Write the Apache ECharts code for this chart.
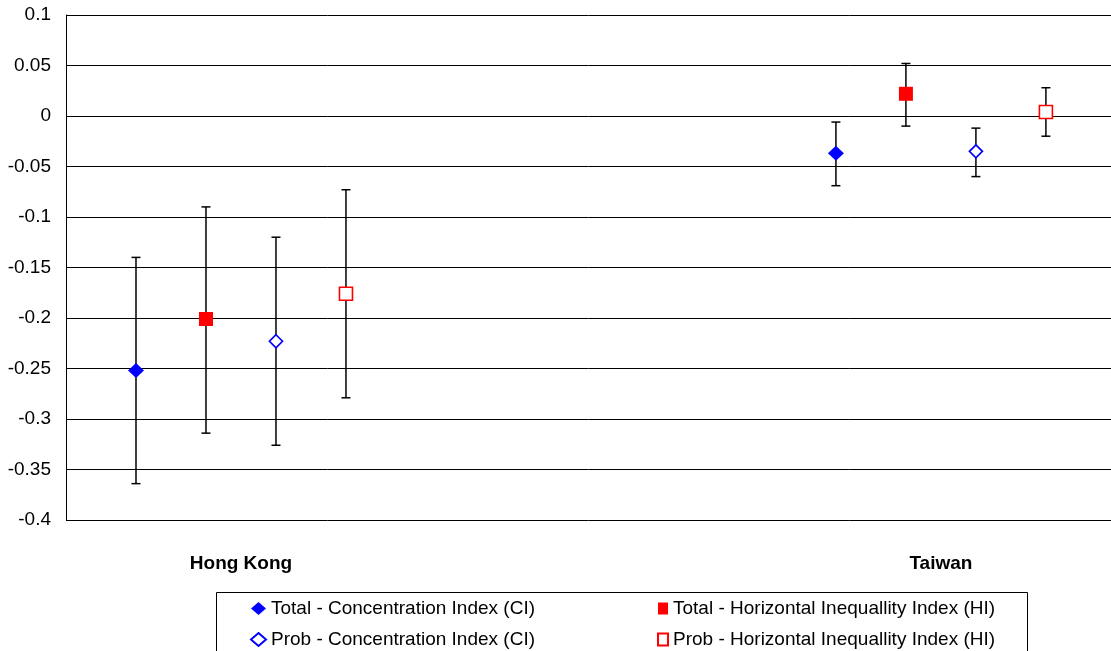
<!DOCTYPE html>
<html>
<head>
<meta charset="utf-8">
<script src="https://cdn.jsdelivr.net/npm/echarts@6/dist/echarts.min.js"></script>
<style>html,body{margin:0;padding:0;background:#fff;}#chart{width:1111px;height:651px;}</style>
</head>
<body>
<div id="chart"></div>
<script>
// ---- data ----
var categories = ['Hong Kong', 'Taiwan'];
var seriesNames = [
  'Total - Concentration Index (CI)',
  'Total - Horizontal Inequallity Index (HI)',
  'Prob - Concentration Index (CI)',
  'Prob - Horizontal Inequallity Index (HI)'
];
// values per category [Hong Kong, Taiwan]
var totalCI      = [-0.252, -0.037];
var totalCILow   = [-0.364, -0.069];
var totalCIHigh  = [-0.140, -0.006];
var totalHI      = [-0.201, 0.022];
var totalHILow   = [-0.314, -0.010];
var totalHIHigh  = [-0.090, 0.052];
var probCI       = [-0.223, -0.035];
var probCILow    = [-0.326, -0.060];
var probCIHigh   = [-0.120, -0.012];
var probHI       = [-0.176, 0.004];
var probHILow    = [-0.279, -0.020];
var probHIHigh   = [-0.073, 0.028];
var yTicks = [0.1, 0.05, 0, -0.05, -0.1, -0.15, -0.2, -0.25, -0.3, -0.35, -0.4];

// ---- layout helpers ----
var CAT_SPACING = 10;   // x-units between category groups
function xPos(catIdx, serIdx) { return catIdx * CAT_SPACING + serIdx + 1; }
function catCenter(catIdx) { return catIdx * CAT_SPACING + 2.5; }

var values = [totalCI, totalHI, probCI, probHI];
var lows = [totalCILow, totalHILow, probCILow, probHILow];
var highs = [totalCIHigh, totalHIHigh, probCIHigh, probHIHigh];

var styles = [
  {symbol: 'diamond', size: [16, 15], itemStyle: {color: '#0000FF', borderColor: '#0000FF', borderWidth: 0, opacity: 1}},
  {symbol: 'rect', size: [14, 14], itemStyle: {color: '#FF0000', borderColor: '#FF0000', borderWidth: 0, opacity: 1}},
  {symbol: 'diamond', size: [13, 13], itemStyle: {color: '#FFFFFF', borderColor: '#0000FF', borderWidth: 1.7, opacity: 1}},
  {symbol: 'rect', size: [13, 13], itemStyle: {color: '#FFFFFF', borderColor: '#FF0000', borderWidth: 1.6, opacity: 1}}
];

var series = [];
// error bars
var errData = [];
for (var s = 0; s < 4; s++) {
  for (var c = 0; c < categories.length; c++) {
    errData.push([xPos(c, s), lows[s][c], highs[s][c]]);
  }
}
series.push({
  type: 'custom',
  name: 'errorbars',
  z: 1,
  silent: true,
  clip: false,
  data: errData,
  renderItem: function (params, api) {
    var x = api.value(0);
    var lo = api.coord([x, api.value(1)]);
    var hi = api.coord([x, api.value(2)]);
    var hw = 4.5;
    var st = {stroke: '#000', lineWidth: 1.5};
    return {
      type: 'group',
      children: [
        {type: 'line', shape: {x1: lo[0], y1: lo[1], x2: hi[0], y2: hi[1]}, style: st},
        {type: 'line', shape: {x1: lo[0] - hw, y1: lo[1], x2: lo[0] + hw, y2: lo[1]}, style: st},
        {type: 'line', shape: {x1: hi[0] - hw, y1: hi[1], x2: hi[0] + hw, y2: hi[1]}, style: st}
      ]
    };
  }
});
for (var s2 = 0; s2 < 4; s2++) {
  var d = [];
  for (var c2 = 0; c2 < categories.length; c2++) d.push([xPos(c2, s2), values[s2][c2]]);
  series.push({
    type: 'scatter',
    name: seriesNames[s2],
    z: 5,
    symbol: styles[s2].symbol,
    symbolSize: styles[s2].size,
    itemStyle: styles[s2].itemStyle,
    emphasis: {disabled: true},
    data: d
  });
}

var font = 'Arial, "Liberation Sans", sans-serif';
var chart = echarts.init(document.getElementById('chart'), null, {renderer: 'canvas'});
chart.setOption({
  animation: false,
  backgroundColor: '#fff',
  grid: {left: 66, top: 15, right: 0, height: 505, containLabel: false},
  xAxis: {
    type: 'value',
    min: 0,
    max: 14.93,
    splitLine: {show: false},
    axisLine: {show: false},
    axisTick: {show: false},
    axisLabel: {
      customValues: categories.map(function (n, i) { return catCenter(i); }),
      formatter: function (v) {
        for (var i = 0; i < categories.length; i++) if (Math.abs(v - catCenter(i)) < 1e-6) return categories[i];
        return '';
      },
      margin: 34,
      fontFamily: font,
      fontWeight: 'bold',
      fontSize: 19,
      color: '#000'
    }
  },
  yAxis: {
    type: 'value',
    min: -0.4,
    max: 0.1,
    interval: 0.05,
    axisLine: {show: true, onZero: false, lineStyle: {color: '#000', width: 1}},
    axisTick: {show: false},
    splitLine: {show: true, lineStyle: {color: '#000', width: 1}},
    axisLabel: {
      fontFamily: font,
      fontSize: 19,
      color: '#000',
      margin: 15,
      padding: [3, 0, 0, 0],
      formatter: function (v) { return String(Math.round(v * 100) / 100); }
    }
  },
  legend: [
    {
      orient: 'vertical',
      left: 250, top: 599, padding: 0,
      itemGap: 12, itemWidth: 15, itemHeight: 13,
      selectedMode: false,
      textStyle: {fontFamily: font, fontSize: 19, color: '#000', lineHeight: 18},
      data: [seriesNames[0], seriesNames[2]]
    },
    {
      orient: 'vertical',
      left: 657, top: 599, padding: 0,
      itemGap: 12, itemWidth: 10, itemHeight: 12,
      selectedMode: false,
      textStyle: {fontFamily: font, fontSize: 19, color: '#000', lineHeight: 18},
      data: [seriesNames[1], seriesNames[3]]
    }
  ],
  graphic: [
    {type: 'rect', shape: {x: 216.5, y: 592.5, width: 811, height: 80}, style: {fill: 'none', stroke: '#000', lineWidth: 1}, silent: true, z: -1}
  ],
  series: series
});
</script>
</body>
</html>
